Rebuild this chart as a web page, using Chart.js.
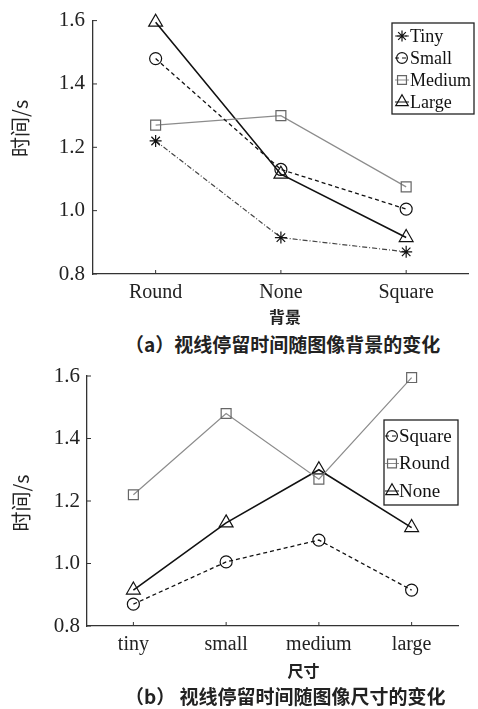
<!DOCTYPE html>
<html>
<head>
<meta charset="utf-8">
<script src="https://cdn.jsdelivr.net/npm/chart.js@4.4.0/dist/chart.umd.min.js"></script>
<style>
  body { margin: 0; background: #fff; width: 478px; height: 709px; position: relative; overflow: hidden; }
  canvas { position: absolute; left: 0; }
  .cap { position: absolute; left: 125px; white-space: nowrap; font-family: "Noto Sans CJK SC"; font-weight: 700; font-size: 19px; line-height: 20px; color: #222; }
</style>
</head>
<body>
<canvas id="chartA" width="478" height="330" style="top:0"></canvas>
<div class="cap" style="top:334px">（a）视线停留时间随图像背景的变化</div>
<canvas id="chartB" width="478" height="330" style="top:355px"></canvas>
<div class="cap" style="top:686px">（b） 视线停留时间随图像尺寸的变化</div>
<script>
// datos
const fondos = ["Round", "None", "Square"];
const tamanos = ["tiny", "small", "medium", "large"];
const yTicks = [0.8, 1.0, 1.2, 1.4, 1.6];

// (a) tiempo por fondo, una serie por tamaño
const tiny = [1.22, 0.915, 0.87];
const small = [1.48, 1.13, 1.005];
const medium = [1.27, 1.30, 1.075];
const large = [1.595, 1.115, 0.915];

// (b) tiempo por tamaño, una serie por fondo
const square = [0.87, 1.005, 1.075, 0.915];
const round = [1.22, 1.48, 1.27, 1.595];
const none = [0.915, 1.13, 1.30, 1.115];

Chart.defaults.font.family = "'Liberation Serif', 'Times New Roman', serif";
Chart.defaults.color = "#222";

// estilos tipo matlab
const estilos = {
  star: { borderColor: "#444", pointBorderColor: "#111", borderDash: [5, 2, 1, 2], borderWidth: 1.2, pointStyle: "star", pointRadius: 6 },
  circle: { borderColor: "#111", pointBorderColor: "#111", borderDash: [4, 3], borderWidth: 1.3, pointStyle: "circle", pointRadius: 6 },
  rect: { borderColor: "#8c8c8c", pointBorderColor: "#666", borderDash: [], borderWidth: 1.2, pointStyle: "rect", pointRadius: 7 },
  triangle: { borderColor: "#111", pointBorderColor: "#111", borderDash: [], borderWidth: 1.6, pointStyle: "triangle", pointRadius: 8 },
};

const serie = (label, data, estilo) => ({
  label,
  data,
  ...estilos[estilo],
  pointBackgroundColor: "rgba(0,0,0,0)",
  pointBorderWidth: 1.2,
  fill: false,
  tension: 0,
  clip: false,
});

// ticks hacia dentro, titulos de ejes y leyenda dentro del area
const decor = {
  id: "decor",
  afterDraw(chart, args, o) {
    const { ctx, chartArea: a, scales } = chart;
    const x = scales.x, y = scales.y;
    ctx.save();
    ctx.strokeStyle = "#333";
    ctx.lineWidth = 1;
    ctx.beginPath();
    x.ticks.forEach((t, i) => {
      const px = x.getPixelForTick(i);
      ctx.moveTo(px, a.bottom);
      ctx.lineTo(px, a.bottom - 4);
    });
    y.ticks.forEach((t, i) => {
      const py = y.getPixelForTick(i);
      ctx.moveTo(a.left, py);
      ctx.lineTo(a.left + 4, py);
    });
    ctx.stroke();

    ctx.fillStyle = "#222";
    ctx.textAlign = "center";
    ctx.textBaseline = "middle";

    // titulo eje X
    ctx.font = "bold 16px 'Noto Sans CJK SC'";
    ctx.fillText(o.xTitle, (a.left + a.right) / 2 + o.xTitleDx, o.xTitleY);

    // titulo eje Y
    ctx.save();
    ctx.font = "20px 'Noto Sans CJK SC'";
    ctx.translate(o.yTitleX, (a.top + a.bottom) / 2 + o.yTitleDy);
    ctx.rotate(-Math.PI / 2);
    ctx.fillText(o.yTitle, 0, 0);
    ctx.restore();

    // leyenda
    const L = o.legend;
    ctx.lineWidth = 1.3;
    ctx.strokeStyle = "#222";
    ctx.strokeRect(L.x, L.y, L.w, L.h);
    ctx.font = L.font;
    ctx.textBaseline = "middle";
    ctx.textAlign = "left";
    chart.data.datasets.forEach((ds, i) => {
      const cy = L.y + L.padTop + i * L.rowH;
      const mx = L.x + L.markX;
      ctx.save();
      ctx.strokeStyle = ds.borderColor;
      ctx.lineWidth = 1;
      ctx.setLineDash(ds.borderDash);
      ctx.beginPath();
      ctx.moveTo(mx - 7, cy);
      ctx.lineTo(mx + 7, cy);
      ctx.stroke();
      ctx.setLineDash([]);
      ctx.strokeStyle = ds.pointBorderColor;
      ctx.fillStyle = "rgba(0,0,0,0)";
      ctx.lineWidth = 1.2;
      Chart.helpers.drawPoint(ctx, { pointStyle: ds.pointStyle, radius: ds.pointRadius * 0.9, rotation: 0, borderWidth: 1.2 }, mx, cy);
      ctx.restore();
      ctx.fillStyle = "#111";
      ctx.fillText(ds.label, L.x + L.textX, cy + 1);
    });
    ctx.restore();
  },
};

const opciones = (cfg) => ({
  responsive: false,
  animation: false,
  layout: { padding: cfg.padding },
  plugins: {
    legend: { display: false },
    tooltip: { enabled: false },
    decor: cfg.decor,
  },
  scales: {
    x: {
      offset: true,
      grid: { display: false, drawTicks: false },
      border: { display: true, color: "#333", width: 1.3 },
      ticks: { padding: 7, font: { size: 20 }, color: "#222" },
      afterFit: (s) => { s.height = cfg.xHeight; },
    },
    y: {
      min: 0.8,
      max: 1.6,
      grid: { display: false, drawTicks: false },
      border: { display: true, color: "#333", width: 1.3 },
      ticks: { padding: cfg.yTickPad, font: { size: 21 }, color: "#222", callback: (v) => v.toFixed(1) },
      afterBuildTicks: (s) => { s.ticks = yTicks.map((v) => ({ value: v })); },
      afterFit: (s) => { s.width = cfg.yWidth; },
    },
  },
});

new Chart(document.getElementById("chartA").getContext("2d"), {
  type: "line",
  data: {
    labels: fondos,
    datasets: [
      serie("Tiny", tiny, "star"),
      serie("Small", small, "circle"),
      serie("Medium", medium, "rect"),
      serie("Large", large, "triangle"),
    ],
  },
  options: opciones({
    padding: { left: 0, right: 1, top: 18, bottom: 0 },
    xHeight: 56,
    yWidth: 93,
    yTickPad: 8,
    decor: {
      xTitle: "背景", xTitleDx: 4, xTitleY: 317,
      yTitle: "时间/s", yTitleX: 20, yTitleDy: -19,
      legend: { x: 392, y: 23, w: 82, h: 91, padTop: 13, rowH: 22, markX: 10, textX: 18, font: "18px 'Liberation Serif'" },
    },
  }),
  plugins: [decor],
});

new Chart(document.getElementById("chartB").getContext("2d"), {
  type: "line",
  data: {
    labels: tamanos,
    datasets: [
      serie("Square", square, "circle"),
      serie("Round", round, "rect"),
      serie("None", none, "triangle"),
    ],
  },
  options: opciones({
    padding: { left: 0, right: 20, top: 21, bottom: 0 },
    xHeight: 59,
    yWidth: 87,
    yTickPad: 7,
    decor: {
      xTitle: "尺寸", xTitleDx: 31, xTitleY: 316,
      yTitle: "时间/s", yTitleX: 21, yTitleDy: 2,
      legend: { x: 384, y: 65, w: 74, h: 85, padTop: 16, rowH: 27.5, markX: 8, textX: 15, font: "19px 'Liberation Serif'" },
    },
  }),
  plugins: [decor],
});
</script>
</body>
</html>
